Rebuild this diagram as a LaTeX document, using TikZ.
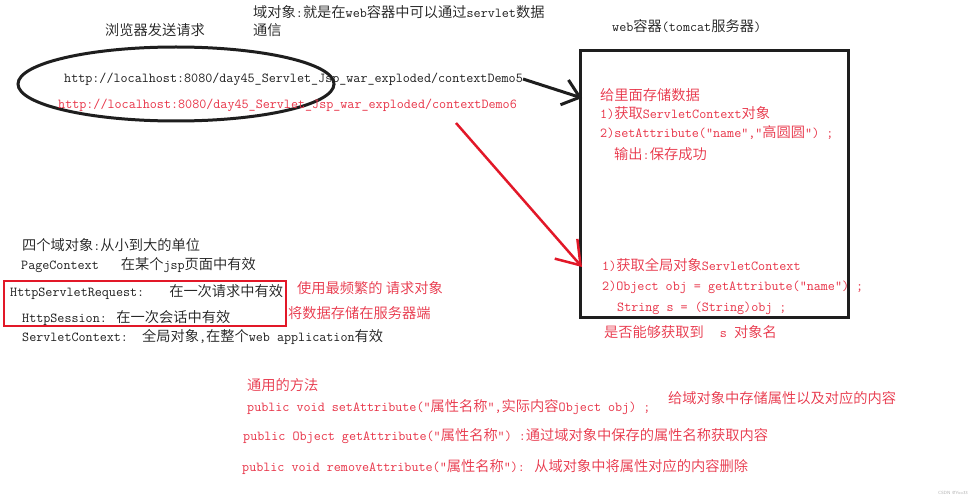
\documentclass[tikz,border=0pt]{standalone}
\usepackage{fontspec}
\newfontfamily\cjk[Scale=1.04,UprightFont={* DemiLight}]{Noto Sans CJK SC}
\newcommand\zh[1]{{\cjk #1}}
\usetikzlibrary{arrows.meta,shapes.geometric}
\definecolor{txtred}{RGB}{232,52,72}
\definecolor{linered}{RGB}{226,24,40}
\definecolor{ink}{RGB}{30,30,30}
\begin{document}
\begin{tikzpicture}[x=1pt,y=-1pt,
  lbl/.style={anchor=west,inner sep=0pt,text height=10.5pt,text depth=3pt,font=\ttfamily\fontsize{13.7}{16}\selectfont,text=ink},
  rlbl/.style={lbl,text=txtred},
  blackarrow/.style={draw=ink,line width=3pt,-{Straight Barb[length=16pt,width=26pt]}},
  redarrow/.style={draw=linered,line width=2.5pt,-{Straight Barb[length=22pt,width=30pt]}}]
\useasboundingbox (0,0) rectangle (975,500);
\fill[white] (0,0) rectangle (975,500);
% top left
\node[lbl] (t1) at (105,32) {\zh{浏览器发送请求}};
\node[lbl] (t2) at (253,14) {\zh{域对象}:\zh{就是在}web\zh{容器中可以通过}servlet\zh{数据}};
\node[lbl] (t3) at (253,32) {\zh{通信}};
\node[ellipse,draw=ink,line width=3pt,minimum width=316pt,minimum height=74pt] (ell) at (176,84) {};
\node[lbl] (u5) at (64,79) {http://localhost:8080/day45\_Servlet\_Jsp\_war\_exploded/contextDemo5};
\node[rlbl] (u6) at (58,105) {http://localhost:8080/day45\_Servlet\_Jsp\_war\_exploded/contextDemo6};
% web container
\node[lbl] (wc) at (612,28) {web\zh{容器}(tomcat\zh{服务器})};
\node[draw=ink,line width=3pt,minimum width=268pt,minimum height=266pt,inner sep=0pt] (box) at (714,184) {};
\node[rlbl] (s1) at (600,97) {\zh{给里面存储数据}};
\node[rlbl] (s2) at (600,115) {1)\zh{获取}ServletContext\zh{对象}};
\node[rlbl] (s3) at (600,134) {2)setAttribute(“name”,“\zh{高圆圆}”) ;};
\node[rlbl] (s4) at (614,156) {\zh{输出}:\zh{保存成功}};
\node[rlbl] (g1) at (602,267) {1)\zh{获取全局对象}ServletContext};
\node[rlbl] (g2) at (602,287) {2)Object obj = getAttribute(“name”) ;};
\node[rlbl] (g3) at (617,308) {String s = (String)obj ;};
\node[rlbl] (g4) at (604,334) {\zh{是否能够获取到}\hspace{16pt}s \zh{对象名}};
% arrows
\coordinate (a5) at (582,98);
\coordinate (r0) at (456,123);
\coordinate (r1) at (582,267);
\draw[blackarrow] (u5.east) -- (a5);
\draw[redarrow] (r0) -- (r1);
% four domain objects
\node[lbl] (d0) at (22,247) {\zh{四个域对象}:\zh{从小到大的单位}};
\node[lbl] (d1) at (21,266) {PageContext\hspace{22pt}\zh{在某个}jsp\zh{页面中有效}};
\node[lbl] (d2) at (10,293) {HttpServletRequest:\hspace{25pt}\zh{在一次请求中有效}};
\node[lbl] (d3) at (22,319) {HttpSession: \zh{在一次会话中有效}};
\node[lbl] (d4) at (22,338) {ServletContext:\hspace{14pt}\zh{全局对象},\zh{在整个}web application\zh{有效}};
\node[draw=linered,line width=2pt,minimum width=282pt,minimum height=45pt,inner sep=0pt] (rq) at (145,303.5) {};
\node[rlbl] (n1) at (297,290) {\zh{使用最频繁的 请求对象}};
\node[rlbl] (n2) at (288,315) {\zh{将数据存储在服务器端}};
% methods
\node[rlbl] (m0) at (247,387) {\zh{通用的方法}};
\node[rlbl] (m1) at (247,408) {public void setAttribute(“\zh{属性名称}”,\zh{实际内容}Object obj) ;};
\node[rlbl] (m1n) at (668,400) {\zh{给域对象中存储属性以及对应的内容}};
\node[rlbl] (m2) at (243,437) {public Object getAttribute(“\zh{属性名称}”) :\zh{通过域对象中保存的属性名称获取内容}};
\node[rlbl] (m3) at (242,468) {public void removeAttribute(“\zh{属性名称}”): \zh{从域对象中将属性对应的内容删除}};
\node[anchor=east,inner sep=0pt,font=\sffamily\fontsize{4.5}{5}\selectfont,text=black!30] (wm) at (968,493) {CSDN @Yoo33};
\end{tikzpicture}
\end{document}
